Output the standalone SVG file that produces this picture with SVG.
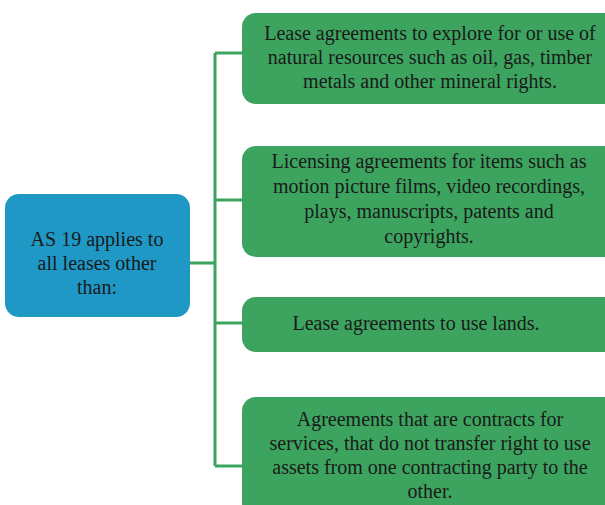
<svg xmlns="http://www.w3.org/2000/svg" width="605" height="505" viewBox="0 0 605 505">
<style>
.g{fill:#3ca45f}
.b{fill:#1f98c6}
.t{font-family:"Liberation Serif",serif;font-size:20px;fill:#1a1a1a;text-anchor:middle}
.c{stroke:#3ca45f;stroke-width:3;fill:none}
</style>
<rect width="605" height="505" fill="#ffffff"/>
<g id="connectors">
<path class="c" d="M190 263H215M215 53V466M215 53H242M215 200H242M215 323H242M215 466H242"/>
</g>
<g id="root">
<rect class="b" x="5" y="194" width="185" height="123" rx="14"/>
<text class="t" x="97" y="246">AS 19 applies to</text>
<text class="t" x="97" y="270">all leases other</text>
<text class="t" x="97" y="294">than:</text>
</g>
<g id="n1">
<rect class="g" x="242" y="13" width="380" height="91" rx="14"/>
<text class="t" x="430" y="40">Lease agreements to explore for or use of</text>
<text class="t" x="430" y="64">natural resources such as oil, gas, timber</text>
<text class="t" x="430" y="88">metals and other mineral rights.</text>
</g>
<g id="n2">
<rect class="g" x="242" y="146" width="380" height="111" rx="14"/>
<text class="t" x="429" y="168">Licensing agreements for items such as</text>
<text class="t" x="429" y="193">motion picture films, video recordings,</text>
<text class="t" x="429" y="218">plays, manuscripts, patents and</text>
<text class="t" x="429" y="243">copyrights.</text>
</g>
<g id="n3">
<rect class="g" x="242" y="297" width="380" height="55" rx="14"/>
<text class="t" x="416" y="330">Lease agreements to use lands.</text>
</g>
<g id="n4">
<rect class="g" x="242" y="397" width="380" height="120" rx="14"/>
<text class="t" x="430" y="426">Agreements that are contracts for</text>
<text class="t" x="430" y="450">services, that do not transfer right to use</text>
<text class="t" x="430" y="474">assets from one contracting party to the</text>
<text class="t" x="430" y="498">other.</text>
</g>
</svg>
